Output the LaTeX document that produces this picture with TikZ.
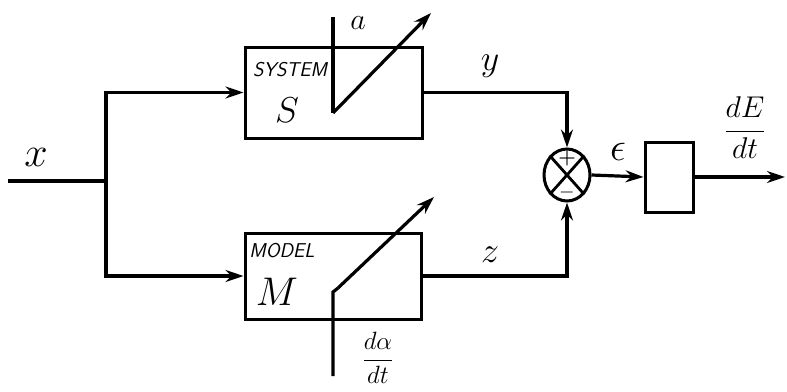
\RequirePackage{fix-cm}
\documentclass[tikz,border=0pt]{standalone}
\usetikzlibrary{arrows.meta,shapes.geometric,calc}
\begin{document}
\begin{tikzpicture}[x=1pt,y=-1pt,line width=3.2pt,
  arr/.style={-{Stealth[length=18pt,width=12pt,inset=6pt]}},
  blockbox/.style={draw,line width=3pt,inner sep=0pt},
  lbl/.style={inner sep=0pt},
  capsl/.style={lbl,font=\sffamily\itshape\fontsize{20}{20}\selectfont},
  mathl/.style={lbl,font=\fontsize{30}{30}\selectfont}]
\useasboundingbox (0,0) rectangle (787,391);
% blocks
\node[blockbox,minimum width=177pt,minimum height=91pt] (sys) at (333.5,92.5) {};
\node[blockbox,minimum width=176pt,minimum height=86pt] (mod) at (333,276) {};
\node[draw,ellipse,line width=3pt,minimum width=46pt,minimum height=52pt,inner sep=0pt] (sum) at (567,175) {};
\node[blockbox,minimum width=48pt,minimum height=70pt] (blk) at (669,177) {};
\draw[line width=2.8pt] (sum.north east) -- (sum.south west) (sum.north west) -- (sum.south east);
\node[lbl,font=\bfseries\fontsize{20}{20}\selectfont] (plus) at (567,159) {+};
\node[lbl,font=\fontsize{20}{20}\selectfont] (minus) at (567,192) {$-$};
% input and branches
\coordinate (in) at (8,181);
\coordinate (br) at (106,181);
\draw (in) -- (br);
\draw[arr] (br) |- (sys.west);
\draw[arr] (br) |- (mod.west);
% outputs
\draw[arr] (sys.east) -| (sum.north);
\draw[arr] (mod.east) -| (sum.south);
\draw[arr] (sum.east) -- (blk.west);
\coordinate (out) at (785,177);
\draw[arr] (blk.east) -- (out);
% adjustable parameter arrows
\coordinate (sa) at (333,17);
\coordinate (sb) at (333,113);
\coordinate (sc) at (431,13);
\draw (sa) -- (sb);
\draw[arr] (sb) -- (sc);
\coordinate (ma) at (333,376);
\coordinate (mb) at (333,292);
\coordinate (mb2) at (338,288);
\coordinate (mc) at (434,197);
\draw (ma) -- (mb) -- (mb2);
\draw[arr] (mb2) -- (mc);
% labels
\node[mathl,font=\fontsize{42}{42}\selectfont] (lx) at (36,157) {$x$};
\node[mathl,font=\fontsize{30}{30}\selectfont] (la) at (358,23) {$a$};
\node[capsl] (lsys) at (290,70) {SYSTEM};
\node[mathl,font=\fontsize{36}{36}\selectfont] (lS) at (287,110) {$S$};
\node[capsl] (lmod) at (282,251) {MODEL};
\node[mathl,font=\fontsize{40}{40}\selectfont] (lM) at (277,292) {$M$};
\node[mathl,font=\fontsize{36}{36}\selectfont] (ly) at (490,66) {$y$};
\node[mathl,font=\fontsize{36}{36}\selectfont] (lz) at (490,255) {$z$};
\node[mathl,font=\fontsize{40}{40}\selectfont] (leps) at (618,152) {$\epsilon$};
\node[mathl,font=\fontsize{25}{25}\selectfont] (lda) at (378,358) {$\displaystyle\frac{d\alpha}{dt}$};
\node[mathl,font=\fontsize{30}{30}\selectfont] (ldE) at (745,128) {$\displaystyle\frac{dE}{dt}$};
\end{tikzpicture}
\end{document}
